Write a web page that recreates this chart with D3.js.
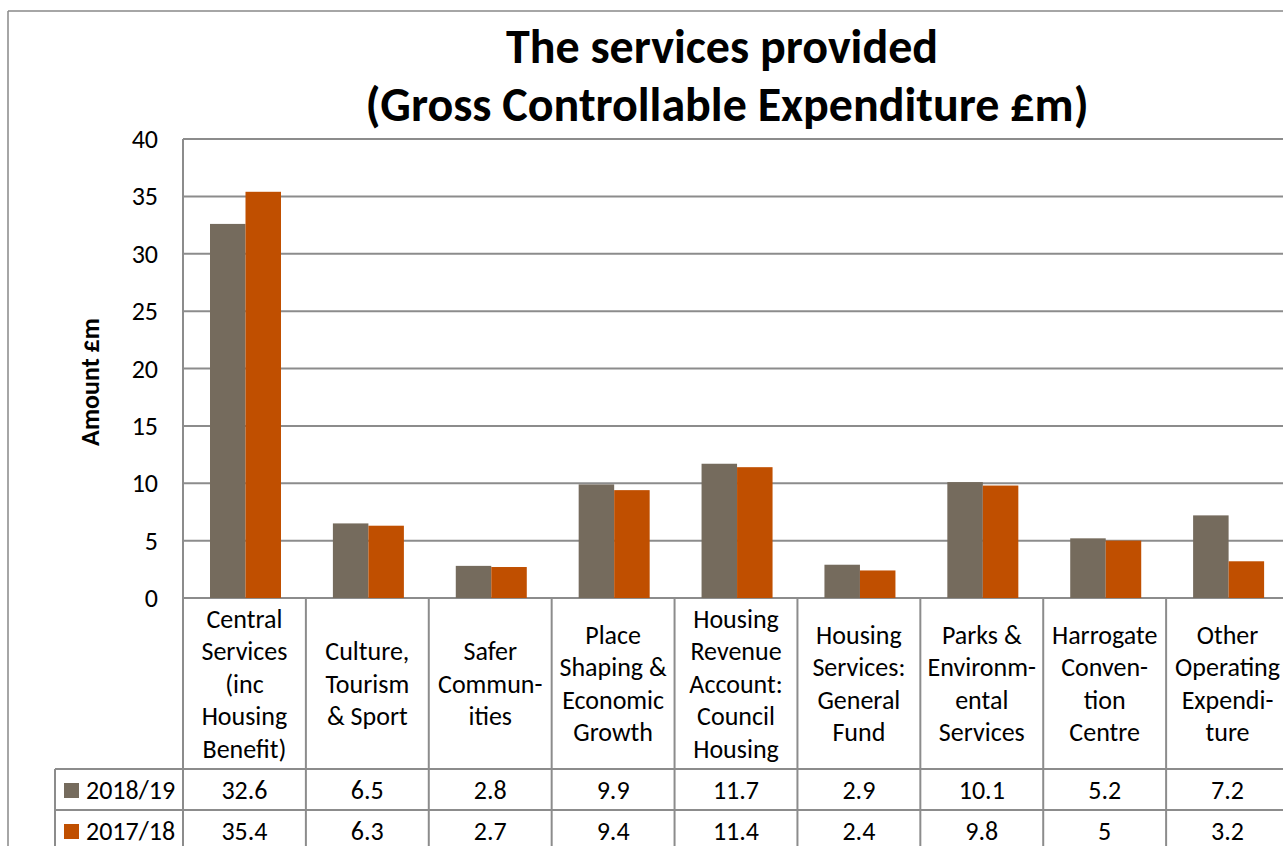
<!DOCTYPE html>
<html><head><meta charset="utf-8">
<script src="https://cdn.jsdelivr.net/npm/d3@7"></script>
<style>
html,body{margin:0;padding:0;background:#fff;overflow:hidden;}
text{font-family:Carlito,Calibri,Lato,"Open Sans",sans-serif;fill:#000;}
</style></head><body>
<svg id="c" width="1283" height="846"></svg>
<script>
const categories = [
  ["Central","Services","(inc","Housing","Benefit)"],
  ["Culture,","Tourism","& Sport"],
  ["Safer","Commun-","ities"],
  ["Place","Shaping &","Economic","Growth"],
  ["Housing","Revenue","Account:","Council","Housing"],
  ["Housing","Services:","General","Fund"],
  ["Parks &","Environm-","ental","Services"],
  ["Harrogate","Conven-","tion","Centre"],
  ["Other","Operating","Expendi-","ture"]
];
const seriesNames = ["2018/19","2017/18"];
const values2018 = [32.6, 6.5, 2.8, 9.9, 11.7, 2.9, 10.1, 5.2, 7.2];
const values2017 = [35.4, 6.3, 2.7, 9.4, 11.4, 2.4, 9.8, 5, 3.2];
const yTicks = [0,5,10,15,20,25,30,35,40];
const colors = ["#756b5d","#c04f00"];

(function(){
const svg = d3.select("#c");
const pL = 183, pR = 1289, pT = 139, pB = 598;
const gridCol = "#8c8c8c";
const fs = 26;

svg.append("line").attr("x1",8).attr("x2",8).attr("y1",11).attr("y2",846).attr("stroke","#888").attr("stroke-width",1.5);
svg.append("line").attr("x1",8).attr("x2",1283).attr("y1",11).attr("y2",11).attr("stroke","#888").attr("stroke-width",1.5);

svg.append("text").attr("x",722).attr("y",63).attr("text-anchor","middle").attr("font-size",48).attr("font-weight","bold").text("The services provided");
svg.append("text").attr("x",727).attr("y",121).attr("text-anchor","middle").attr("font-size",48).attr("font-weight","bold").text("(Gross Controllable Expenditure £m)");

const x = d3.scaleBand().domain(d3.range(categories.length)).range([pL,pR]).padding(0);
const xs = d3.scaleBand().domain([0,1]).range([27,98]).padding(0);
const y = d3.scaleLinear().domain([0,40]).range([pB,pT]);

svg.append("g").selectAll("line").data(yTicks).join("line")
  .attr("x1",pL).attr("x2",pR).attr("y1",d=>y(d)).attr("y2",d=>y(d))
  .attr("stroke",gridCol).attr("stroke-width",2);
svg.append("line").attr("x1",pL).attr("x2",pL).attr("y1",pT).attr("y2",846).attr("stroke",gridCol).attr("stroke-width",2);

svg.append("g").selectAll("text").data(yTicks).join("text")
  .attr("x",158).attr("y",d=>y(d)+9).attr("text-anchor","end").attr("font-size",fs).text(d=>d);
svg.append("text").attr("transform","translate(99,382) rotate(-90)").attr("text-anchor","middle")
  .attr("font-size",fs).attr("font-weight","bold").text("Amount £m");

const series = [values2018, values2017];
series.forEach((vals,si)=>{
  svg.append("g").selectAll("rect").data(vals).join("rect")
    .attr("x",(d,i)=>x(i)+xs(si)).attr("width",xs.bandwidth())
    .attr("y",d=>y(d)).attr("height",d=>y(0)-y(d)).attr("fill",colors[si]);
});

const rowTop = [769, 810];
const tg = svg.append("g");
tg.selectAll("line.v").data(d3.range(1,categories.length+1)).join("line")
  .attr("x1",i=>i<categories.length?x(i):pR).attr("x2",i=>i<categories.length?x(i):pR).attr("y1",pB).attr("y2",846)
  .attr("stroke",gridCol).attr("stroke-width",2);
tg.append("line").attr("x1",55).attr("x2",55).attr("y1",rowTop[0]).attr("y2",846).attr("stroke",gridCol).attr("stroke-width",2);
rowTop.forEach(r=>{
  tg.append("line").attr("x1",55).attr("x2",pR).attr("y1",r).attr("y2",r).attr("stroke",gridCol).attr("stroke-width",2);
});
categories.forEach((lines,i)=>{
  const n = lines.length;
  const lh = 32.5;
  const cy = 683.5;
  const t = tg.append("text").attr("text-anchor","middle").attr("font-size",fs);
  lines.forEach((ln,k)=>{
    t.append("tspan").attr("x",x(i)+x.bandwidth()/2).attr("y",cy + (k-(n-1)/2)*lh + 9).text(ln);
  });
});
series.forEach((vals,si)=>{
  const r = rowTop[si];
  tg.append("rect").attr("x",64).attr("y",r+14).attr("width",15).attr("height",15).attr("fill",colors[si]);
  tg.append("text").attr("x",86).attr("y",r+30).attr("font-size",fs).text(seriesNames[si]);
  tg.selectAll(null).data(vals).join("text")
    .attr("x",(d,i)=>x(i)+x.bandwidth()/2).attr("y",r+30).attr("text-anchor","middle").attr("font-size",fs)
    .text(d=>d);
});
})();
</script></body></html>
